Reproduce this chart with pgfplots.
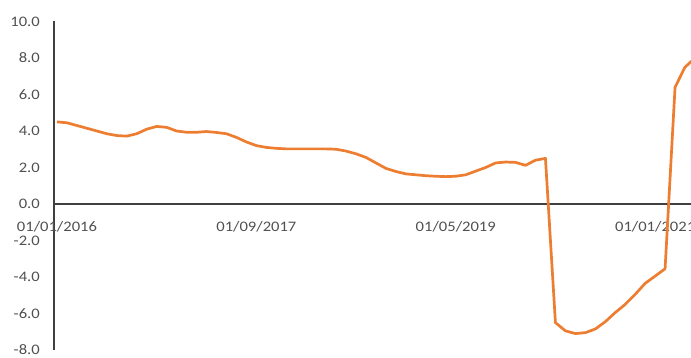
\documentclass[border=0pt]{standalone}
\usepackage{fontspec}
\setmainfont{Carlito}[FakeStretch=1.14]
\usepackage{pgfplots}
\pgfplotsset{compat=1.18}
\definecolor{lineor}{HTML}{ED7D31}
\definecolor{txtgray}{HTML}{505050}
\definecolor{axgray}{HTML}{404040}
\begin{document}
\begin{tikzpicture}
\begin{axis}[
  at={(54bp,8bp)}, anchor=south west,
  scale only axis,
  width=637bp, height=328.5bp,
  xmin=-0.3, xmax=63.6,
  ymin=-8, ymax=10,
  axis x line*=middle,
  axis y line*=left,
  axis line style={-, draw=axgray, line width=1.1bp},
  hide obscured x ticks=false,
  hide obscured y ticks=false,
  major tick length=0pt,
  xtick={0,20,40,60},
  xticklabels={01/01/2016,01/09/2017,01/05/2019,01/01/2021},
  ytick={-8,-6,...,10},
  tick label style={font=\fontsize{14.6}{16}\selectfont, text=txtgray},
  xticklabel style={anchor=center, yshift=-23bp},
  yticklabel style={anchor=east, inner sep=0pt, xshift=-14bp,
    /pgf/number format/.cd, fixed, fixed zerofill, precision=1, assume math mode=true},
  clip=true,
]
\addplot[color=lineor, line width=2.7bp, line join=round] coordinates {
(0,4.5) (1,4.45) (2,4.3) (3,4.15) (4,4.0) (5,3.85) (6,3.75) (7,3.72)
(8,3.85) (9,4.1) (10,4.25) (11,4.2) (12,4.0) (13,3.93) (14,3.93) (15,3.97)
(16,3.92) (17,3.85) (18,3.65) (19,3.4) (20,3.2) (21,3.1) (22,3.05) (23,3.02)
(24,3.02) (25,3.02) (26,3.02) (27,3.02) (28,3.0) (29,2.9) (30,2.75) (31,2.55)
(32,2.25) (33,1.95) (34,1.78) (35,1.65) (36,1.6) (37,1.55) (38,1.52) (39,1.5)
(40,1.52) (41,1.6) (42,1.8) (43,2.0) (44,2.25) (45,2.3) (46,2.28) (47,2.12)
(48,2.4) (49,2.5) (50,-6.5) (51,-6.95) (52,-7.1) (53,-7.05) (54,-6.85) (55,-6.45)
(56,-5.95) (57,-5.5) (58,-4.95) (59,-4.35) (60,-3.95) (61,-3.55) (62,6.4) (63,7.5)
(64,8.0)
};
\end{axis}
\pgfresetboundingbox
\path (0,0) rectangle (691bp,358bp);
\end{tikzpicture}
\end{document}
